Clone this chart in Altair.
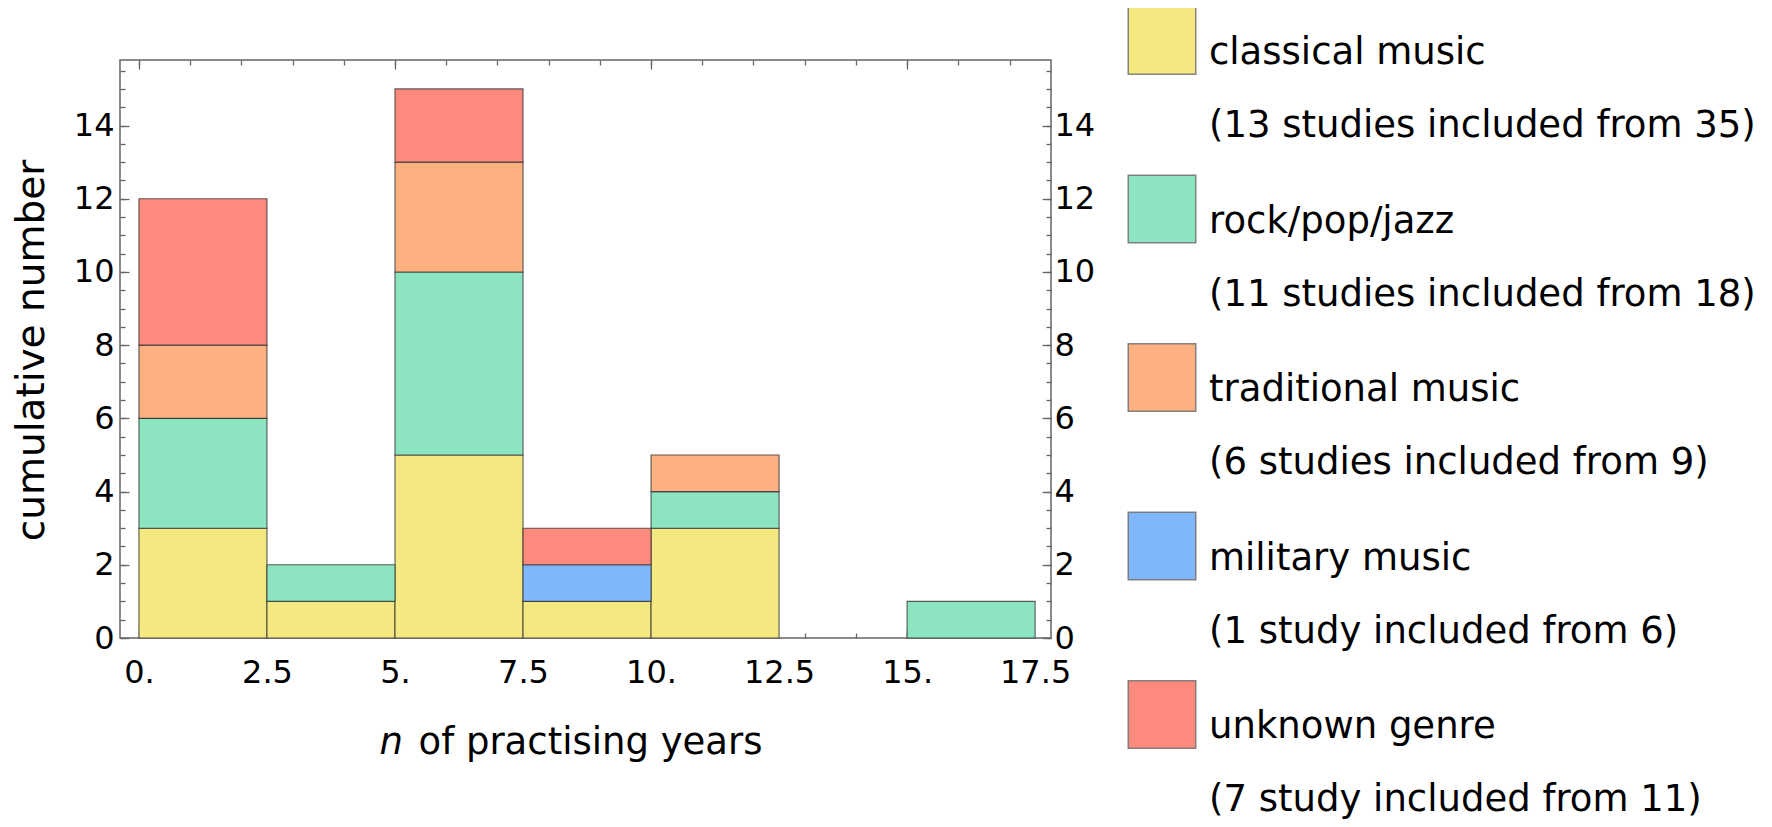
import altair as alt
import pandas as pd

# ---- data ----
genres = ["classical music", "rock/pop/jazz", "traditional music", "military music", "unknown genre"]
details = [
    "(13 studies included from 35)",
    "(11 studies included from 18)",
    "(6 studies included from 9)",
    "(1 study included from 6)",
    "(7 study included from 11)",
]
colors = ["#F4E880", "#8CE4C0", "#FDB080", "#80B6FA", "#FE8A7E"]

bin_starts = [0, 2.5, 5, 7.5, 10, 12.5, 15]
bin_ends = [2.5, 5, 7.5, 10, 12.5, 15, 17.5]
classical = [3, 1, 5, 1, 3, 0, 0]
rock = [3, 1, 5, 0, 1, 0, 1]
traditional = [2, 0, 3, 0, 1, 0, 0]
military = [0, 0, 0, 1, 0, 0, 0]
unknown = [4, 0, 2, 1, 0, 0, 0]

x_label_values = [0, 2.5, 5, 7.5, 10, 12.5, 15, 17.5]
x_major_ticks = [0, 5, 10, 15]
x_minor_ticks = list(range(0, 18))
y_label_values = [0, 2, 4, 6, 8, 10, 12, 14]
y_minor_ticks = [i * 0.5 for i in range(0, 32)]

x_domain = [-0.37, 17.81]
y_domain = [0, 15.79]

# ---- tables ----
series = [classical, rock, traditional, military, unknown]
rows = []
for gi, (g, vals) in enumerate(zip(genres, series)):
    for s, e, c in zip(bin_starts, bin_ends, vals):
        if c > 0:
            rows.append({"x0": s, "x1": e, "genre": g, "gi": gi, "count": c})
bars_df = pd.DataFrame(rows)
leg_df = pd.DataFrame({"li": list(range(len(genres))), "genre": genres, "detail": details})
dummy = pd.DataFrame({"v": [0.0]})

FONT = "DejaVu Sans"
TICK_COLOR = "#666666"
LABEL_SIZE = 32
color_scale = alt.Scale(domain=genres, range=colors)


def xs():
    return alt.Scale(domain=x_domain, nice=False, zero=False)


def ys():
    return alt.Scale(domain=y_domain, nice=False, zero=False)


def tick_axis(orient, values, size, **kw):
    params = dict(orient=orient, values=values, tickSize=size, offset=-size, labels=False,
                  domain=False, grid=False, tickColor=TICK_COLOR, tickWidth=1.3)
    params.update(kw)
    if "title" not in params:
        params["title"] = None
    return alt.Axis(**params)


ax_bottom_labels = alt.Axis(
    orient="bottom", values=x_label_values,
    labelExpr="datum.value % 1 === 0 ? format(datum.value, 'd') + '.' : format(datum.value, '.1f')",
    tickSize=0, labelPadding=44, labelBaseline="alphabetic", labelFontSize=LABEL_SIZE, labelFont=FONT,
    labelColor="black", labelFlush=False, labelOverlap=False, domain=False, grid=False,
    title="of practising years", titleFontSize=37, titleFont=FONT, titleFontWeight="normal",
    titleColor="black", titleX=298, titleY=115, titleAlign="left", titleBaseline="alphabetic",
)
ax_left_labels = alt.Axis(
    orient="left", values=y_label_values, format="d", tickSize=0, labelPadding=6,
    labelFontSize=LABEL_SIZE, labelFont=FONT, labelColor="black", labelFlush=False, labelOverlap=False,
    domain=False, grid=False,
    title="cumulative number", titleFontSize=39, titleFont=FONT, titleFontWeight="normal",
    titleColor="black", titleX=-77, titleY=290, titleAngle=270, titleAlign="center",
    titleBaseline="alphabetic",
)
ax_right_labels = alt.Axis(
    orient="right", values=y_label_values, format="d", tickSize=0, labelPadding=3,
    labelFontSize=LABEL_SIZE, labelFont=FONT, labelColor="black", labelFlush=False, labelOverlap=False,
    domain=False, grid=False, title=None,
)

bars = alt.Chart(bars_df).transform_stack(
    stack="count", groupby=["x0"], as_=["y0", "y1"],
    sort=[alt.SortField("gi", order="ascending")],
).mark_rect(stroke="#333333", strokeWidth=1.1, strokeOpacity=0.8).encode(
    x=alt.X("x0:Q", scale=xs(), axis=ax_bottom_labels),
    x2="x1:Q",
    y=alt.Y("y0:Q", scale=ys(), axis=ax_left_labels),
    y2="y1:Q",
    color=alt.Color("genre:N", scale=color_scale, legend=None),
)


def inv(xaxis, yaxis):
    return alt.Chart(dummy).mark_point(opacity=0).encode(
        x=alt.X("v:Q", scale=xs(), axis=xaxis),
        y=alt.Y("v:Q", scale=ys(), axis=yaxis),
    )


invA = inv(
    tick_axis("bottom", x_major_ticks, 9, title="n", titleFontStyle="italic", titleFontSize=37,
              titleFont=FONT, titleFontWeight="normal", titleColor="black", titleX=259,
              titleY=124, titleAlign="left", titleBaseline="alphabetic"),
    tick_axis("left", y_label_values, 9),
)
invB = inv(tick_axis("bottom", x_minor_ticks, 5), tick_axis("left", y_minor_ticks, 5))
invC = inv(tick_axis("top", x_major_ticks, 9), ax_right_labels)
invD = inv(tick_axis("top", x_minor_ticks, 5), tick_axis("right", y_label_values, 9))
invE = inv(None, tick_axis("right", y_minor_ticks, 5))


def leg_scale():
    return alt.Scale(domain=[0, 4], range=[-19.5, 654.5], nice=False, zero=False)


squares = alt.Chart(leg_df).mark_square(
    size=4556, opacity=1, stroke="#707070", strokeWidth=1.5, strokeOpacity=0.85
).encode(
    x=alt.value(1042),
    y=alt.Y("li:Q", scale=leg_scale(), axis=None),
    color=alt.Color("genre:N", scale=color_scale, legend=None),
)
text1 = alt.Chart(leg_df).mark_text(
    align="left", baseline="alphabetic", dy=23.5, fontSize=37, font=FONT, color="black"
).encode(
    x=alt.value(1089),
    y=alt.Y("li:Q", scale=leg_scale(), axis=None),
    text="genre:N",
)
text2 = alt.Chart(leg_df).mark_text(
    align="left", baseline="alphabetic", dy=96.5, fontSize=37, font=FONT, color="black"
).encode(
    x=alt.value(1089),
    y=alt.Y("li:Q", scale=leg_scale(), axis=None),
    text="detail:N",
)

chart = alt.layer(
    bars, invA, invB, invC, invD, invE, squares, text1, text2
).resolve_scale(
    x="independent", y="independent"
).resolve_axis(
    x="independent", y="independent"
).properties(
    width=931, height=578,
    autosize=alt.AutoSizeParams(type="none"),
    padding={"left": 112, "top": 52, "right": 713, "bottom": 181},
    background="white",
).configure_view(
    stroke=TICK_COLOR, strokeWidth=1.5
)

chart.save("out.html", embed_options={"renderer": "svg", "actions": False})
